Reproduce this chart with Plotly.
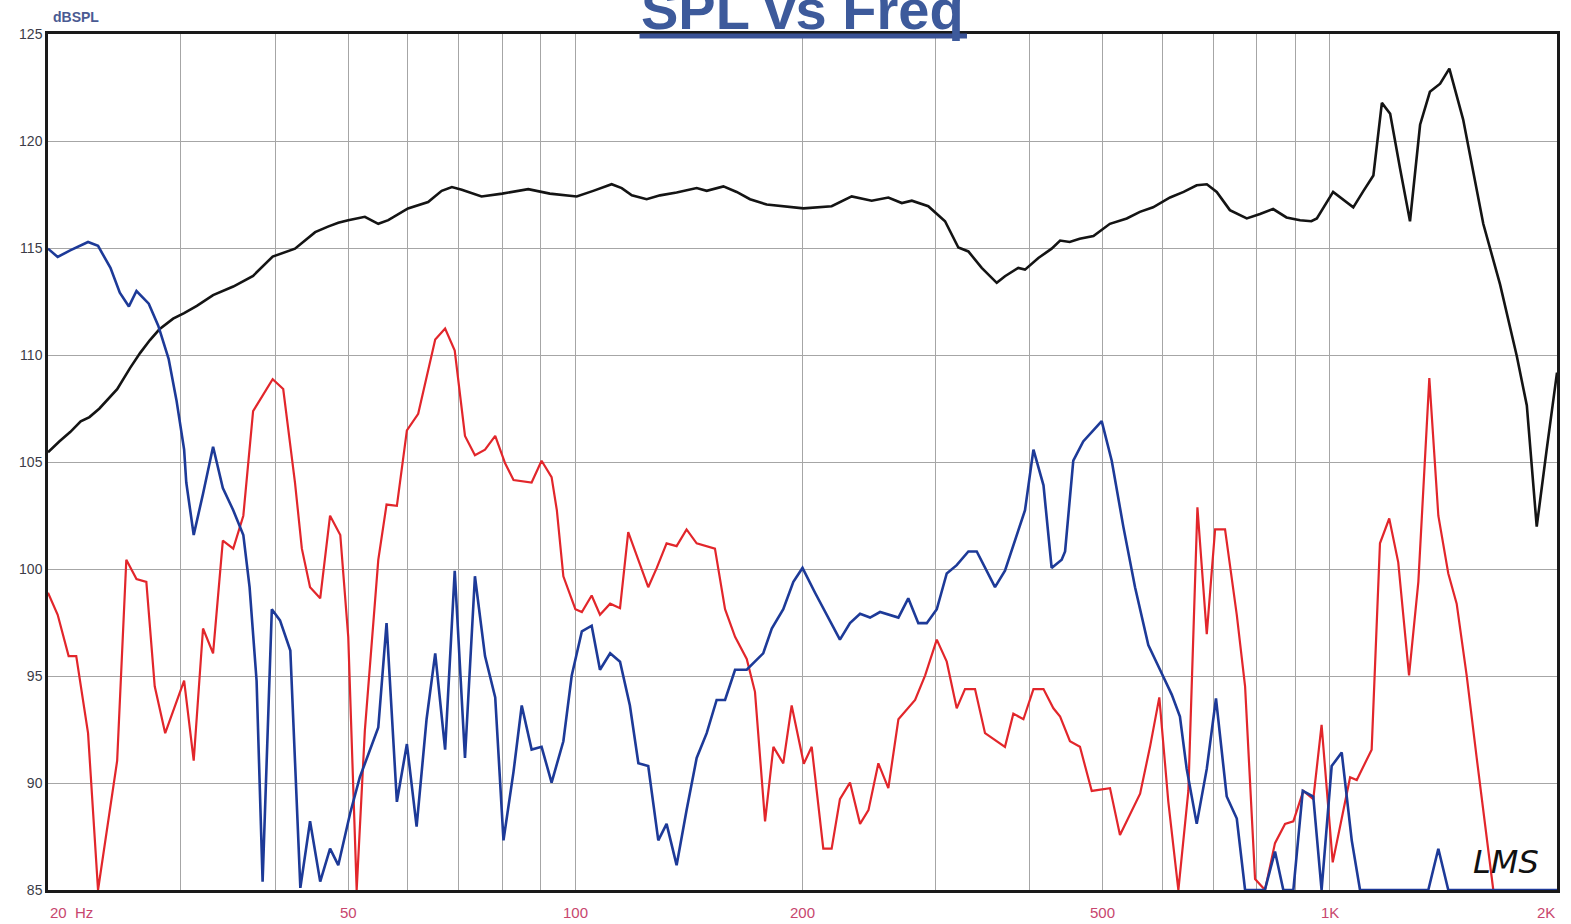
import math
import plotly.graph_objects as go

# ---------------- data (Hz, dBSPL) ----------------
black_freq = [20, 20.7, 21.4, 22.1, 22.7, 23.4, 24.7, 25.7, 26.5, 27.3, 28.1, 29.3, 30.3, 31.5, 33.1,
              35.2, 37.4, 39.7, 42.5, 43.8, 45.2, 47.0, 48.5, 50.0, 52.6, 54.8, 56.5, 60.0, 63.8, 66.5,
              68.6, 70.7, 75.1, 80, 86.6, 92.5, 100.4, 105.6, 111.7, 115.2, 118.8, 124.3, 129.5, 136.2,
              144.8, 149.3, 157.1, 163.6, 170.4, 179.3, 188.6, 200.6, 218.6, 232.4, 247, 259.9, 270.8,
              279.2, 293.6, 309, 321.8, 331.8, 345.6, 361.8, 371, 386.4, 394.4, 410.8, 427.8, 439, 452,
              466, 486, 511, 538, 560, 583, 614, 640, 666, 687, 708, 737, 776, 808, 841, 876, 913, 945,
              961, 1010, 1074, 1108, 1142, 1172, 1202, 1239, 1277, 1317, 1357, 1400, 1440, 1502, 1597,
              1681, 1769, 1824, 1880, 1938, 2000]
black_db = [105.45, 105.96, 106.4, 106.9, 107.1, 107.5, 108.4, 109.4, 110.1, 110.7, 111.2, 111.7, 111.96,
            112.3, 112.8, 113.2, 113.7, 114.6, 114.97, 115.35, 115.74, 116.0, 116.18, 116.3, 116.46,
            116.13, 116.3, 116.85, 117.15, 117.67, 117.85, 117.72, 117.41, 117.54, 117.75, 117.54,
            117.41, 117.67, 117.98, 117.8, 117.46, 117.28, 117.46, 117.59, 117.8, 117.67, 117.88,
            117.62, 117.28, 117.03, 116.95, 116.85, 116.95, 117.41, 117.21, 117.36, 117.1, 117.21,
            116.95, 116.25, 115.02, 114.84, 114.07, 113.37, 113.68, 114.07, 113.99, 114.53, 114.97,
            115.35, 115.28, 115.43, 115.56, 116.13, 116.38, 116.69, 116.9, 117.36, 117.62, 117.93,
            117.98, 117.62, 116.77, 116.38, 116.59, 116.82, 116.43, 116.3, 116.25, 116.38, 117.62,
            116.9, 117.67, 118.39, 121.78, 121.27, 118.7, 116.25, 120.76, 122.3, 122.68, 123.38,
            121.0, 116.13, 113.3, 109.95, 107.64, 101.98, 105.58, 109.18]

red_freq = [20, 20.6, 21.3, 21.8, 22.6, 23.3, 24.7, 25.4, 26.2, 27.0, 27.7, 28.6, 30.3, 31.2, 32.1, 33.1,
            34.1, 35.2, 36.3, 37.4, 39.7, 41.0, 42.5, 43.4, 44.5, 45.9, 47.3, 48.8, 50.0, 51.3, 52.6,
            54.8, 56.2, 58.0, 59.8, 61.9, 65.2, 67.2, 69.2, 71.4, 73.6, 75.9, 78.3, 80.7, 82.8, 87.5,
            90.2, 93.0, 94.5, 96.4, 100, 102, 105.1, 107.8, 111.2, 114.6, 117.5, 121.2, 124.9, 128.2,
            132.1, 136.2, 140.4, 144.8, 149.3, 153.1, 157.9, 162.8, 168.7, 173, 178.4, 183, 188.6,
            193.5, 200.8, 205.7, 213.1, 218.6, 224.2, 231.2, 238.4, 244.6, 252.1, 259.9, 268, 282,
            290.8, 301.3, 310.6, 320.2, 328.4, 338.6, 349.1, 371, 380.6, 392.5, 404.7, 417.3, 430.1,
            439, 452.4, 466.4, 483.5, 511.2, 527, 560.4, 577.6, 594.2, 610.8, 629.8, 649.3, 667.5,
            686.8, 704.5, 726.2, 752.7, 772, 795.9, 820.4, 845.8, 872.1, 894.5, 922.2, 950.6, 975,
            1008.7, 1036.8, 1063.7, 1085.5, 1107.7, 1136, 1165.2, 1198.6, 1232, 1273.3, 1310, 1354.6,
            1392.4, 1435.3, 1472.5, 1518.1, 1565.3, 1605.4, 1646.6]
red_db = [98.89, 97.86, 95.93, 95.93, 92.33, 85, 91.04, 100.43, 99.53, 99.4, 94.52, 92.33, 94.78, 91.04,
          97.22, 96.06, 101.33, 100.95, 102.49, 107.38, 108.87, 108.41, 104.04, 100.95, 99.15, 98.63,
          102.49, 101.59, 96.83, 85, 92.46, 100.43, 103.01, 102.95, 106.48, 107.25, 110.72, 111.24,
          110.21, 106.22, 105.32, 105.58, 106.22, 104.94, 104.16, 104.04, 105.06, 104.29, 102.75,
          99.66, 98.12, 97.99, 98.76, 97.86, 98.38, 98.17, 101.72, 100.43, 99.15, 100.05, 101.2,
          101.07, 101.85, 101.2, 101.07, 100.95, 98.12, 96.83, 95.8, 94.26, 88.21, 91.69, 90.92,
          93.62, 90.9, 91.69, 86.93, 86.93, 89.24, 90.02, 88.09, 88.73, 90.92, 89.76, 92.98, 93.88,
          95.03, 96.7, 95.67, 93.49, 94.39, 94.39, 92.33, 91.69, 93.24, 92.98, 94.39, 94.39, 93.49,
          93.1, 91.95, 91.69, 89.63, 89.76, 87.57, 89.5, 91.69, 94.0, 89.12, 85, 89.63, 102.88,
          96.96, 101.85, 101.85, 97.86, 94.52, 85.51, 85, 87.19, 88.09, 88.21, 89.63, 89.24, 92.72,
          86.29, 88.34, 90.27, 90.14, 90.79, 91.56, 101.2, 102.36, 100.31, 95.03, 99.4, 108.92,
          102.49, 99.79, 98.38, 95.03, 91.17, 88.09, 85]

blue_freq = [20, 20.6, 21.4, 22.6, 23.3, 24.2, 24.9, 25.6, 26.2, 27.2, 28.0, 28.9, 29.6, 30.3, 30.5, 31.2,
             32.1, 33.1, 34.1, 35.2, 36.3, 37.0, 37.8, 38.5, 39.6, 40.6, 41.9, 43.2, 44.5, 45.9, 47.3,
             48.5, 50.3, 51.8, 54.8, 56.2, 58.0, 59.8, 61.6, 63.5, 65.2, 67.2, 69.2, 71.4, 73.6, 75.9,
             78.3, 80.3, 82.8, 84.9, 87.5, 90.2, 93, 96.4, 98.9, 102, 105.1, 107.8, 111.2, 114.6, 118.1,
             121.2, 124.9, 128.8, 132.1, 136.2, 140.4, 144.8, 149.3, 153.9, 157.9, 162.8, 168.7, 177.4,
             182.1, 188.6, 194.5, 200, 207.8, 216.4, 224.2, 231.2, 238.4, 245.8, 253.4, 268, 276.2,
             284.8, 292.2, 301.3, 310.6, 320.2, 331.8, 340.4, 359.9, 371, 382.5, 394.4, 404.7, 417.3,
             427.8, 441.1, 445.7, 457, 471.1, 485.7, 498.4, 513.9, 532.4, 551.8, 574.6, 595.5, 617.2,
             632.8, 646, 666.1, 686.8, 706.4, 729.9, 752.7, 772, 820, 845.8, 867.6, 894.5, 920.6, 950.6,
             975, 1005.5, 1036.8, 1069, 1096.4, 1350.4, 1392.4, 1435.3, 2000]
blue_db = [114.97, 114.58, 114.89, 115.28, 115.1, 114.07, 112.91, 112.27, 112.99, 112.4, 111.37, 109.82,
           107.89, 105.58, 104.04, 101.59, 103.52, 105.71, 103.78, 102.75, 101.59, 99.15, 94.78, 85.39,
           98.12, 97.6, 96.19, 85.1, 88.21, 85.39, 86.93, 86.16, 88.6, 90.27, 92.59, 97.47, 89.12,
           91.82, 87.96, 92.98, 96.06, 91.56, 99.92, 91.17, 99.66, 95.93, 94.0, 87.32, 90.53, 93.62,
           91.56, 91.69, 90.02, 91.95, 95.03, 97.09, 97.35, 95.29, 96.06, 95.67, 93.62, 90.92, 90.79,
           87.32, 88.09, 86.16, 88.73, 91.17, 92.33, 93.88, 93.88, 95.29, 95.29, 96.06, 97.22, 98.12,
           99.4, 100.05, 98.89, 97.73, 96.7, 97.47, 97.91, 97.73, 97.99, 97.73, 98.63, 97.47, 97.47,
           98.12, 99.79, 100.18, 100.82, 100.82, 99.15, 99.92, 101.33, 102.75, 105.58, 103.91, 100.05,
           100.43, 100.82, 105.06, 105.96, 106.48, 106.91, 105.06, 101.98, 99.15, 96.45, 95.29, 94.13,
           93.1, 90.66, 88.09, 90.66, 93.95, 89.37, 88.34, 85, 85, 86.8, 85, 85, 89.63, 89.37, 85,
           90.79, 91.43, 87.32, 85, 85, 86.93, 85, 85]

x_tick_vals = [20, 50, 100, 200, 500, 1000, 2000]
x_tick_text = ["20  Hz", "50", "100", "200", "500", "1K", "2K"]
x_grid_vals = [20, 30, 40, 50, 60, 70, 80, 90, 100, 200, 300, 400, 500, 600, 700, 800, 900, 1000, 2000]
y_tick_vals = [85, 90, 95, 100, 105, 110, 115, 120, 125]

# ---------------- figure ----------------
fig = go.Figure()
fig.add_trace(go.Scatter(x=black_freq, y=black_db, mode="lines",
                         line=dict(color="#141414", width=2.6), hoverinfo="skip"))
fig.add_trace(go.Scatter(x=red_freq, y=red_db, mode="lines",
                         line=dict(color="#e2262b", width=2.2), hoverinfo="skip"))
fig.add_trace(go.Scatter(x=blue_freq, y=blue_db, mode="lines",
                         line=dict(color="#1d3a98", width=2.6), hoverinfo="skip"))

grid_col = "#a6a6a6"
fig.update_xaxes(type="log", range=[math.log10(20), math.log10(2000)],
                 tickvals=x_grid_vals, showticklabels=False, ticks="",
                 showgrid=True, gridcolor=grid_col, gridwidth=1.3,
                 showline=True, mirror=True, linecolor="#1a1a1a", linewidth=2.5,
                 zeroline=False)
fig.update_yaxes(range=[85, 125], tickvals=y_tick_vals, ticks="",
                 showgrid=True, gridcolor=grid_col, gridwidth=1.3,
                 showline=True, mirror=True, linecolor="#1a1a1a", linewidth=2.5,
                 zeroline=False,
                 tickfont=dict(family="Liberation Sans, Arial", size=14, color="#3c3c48"))

annotations = []
for v, t in zip(x_tick_vals, x_tick_text):
    anchor = "center"
    if v == x_tick_vals[0]:
        anchor = "left"
    elif v == x_tick_vals[-1]:
        anchor = "right"
    annotations.append(dict(x=math.log10(v), y=-0.026, xref="x", yref="paper", text=t,
                            showarrow=False, xanchor=anchor, yanchor="middle",
                            font=dict(family="Liberation Sans, Arial", size=15, color="#c8466e")))
annotations.append(dict(x=0.002, y=1.02, xref="paper", yref="paper", text="<b>dBSPL</b>",
                        showarrow=False, xanchor="left", yanchor="middle",
                        font=dict(family="Liberation Sans, Arial", size=14, color="#4a5a92")))
annotations.append(dict(x=0.5, y=0.99, xref="paper", yref="paper", text="<b>SPL vs Freq</b>",
                        showarrow=False, xanchor="center", yanchor="bottom",
                        font=dict(family="Liberation Sans, Arial", size=56, color="#3d5a9b")))
annotations.append(dict(x=0.966, y=0.033, xref="paper", yref="paper", text="<i>LMS</i>",
                        showarrow=False, xanchor="center", yanchor="middle",
                        font=dict(family="DejaVu Sans", size=32, color="#111111")))

fig.update_layout(
    width=1571, height=924,
    margin=dict(l=48, r=14, t=34, b=34),
    paper_bgcolor="white", plot_bgcolor="white",
    showlegend=False,
    annotations=annotations,
    shapes=[dict(type="line", xref="paper", yref="paper", x0=0.392, x1=0.609,
                 y0=0.9977, y1=0.9977, line=dict(color="#3a5296", width=5), layer="above")],
)

fig.write_html("out.html", config={"displayModeBar": False},
               post_script="document.body.style.margin='0';document.body.style.overflow='hidden';")
